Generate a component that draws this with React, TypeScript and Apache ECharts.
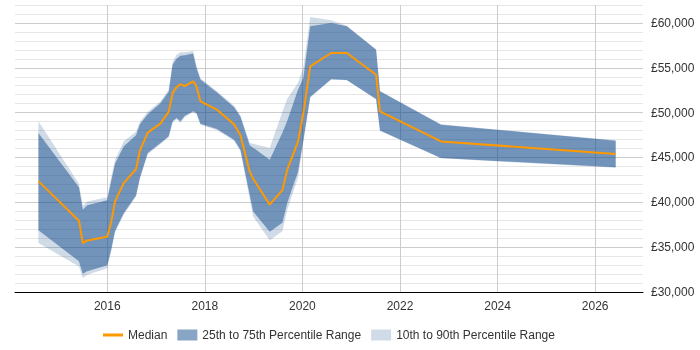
import React, { useEffect, useRef } from "react";
import * as echarts from "echarts";

// Observation dates (decimal years) and salary percentiles at each date
const years = [
  2014.59, 2015.42, 2015.5, 2015.59, 2016.0, 2016.08, 2016.16, 2016.34, 2016.59, 2016.67,
  2016.83, 2017.09, 2017.26, 2017.34, 2017.42, 2017.5, 2017.59, 2017.76, 2017.83, 2017.91,
  2018.25, 2018.6, 2018.73, 2018.92, 2018.99, 2019.33, 2019.59, 2019.69, 2019.91, 2020.02,
  2020.16, 2020.59, 2020.91, 2021.51, 2021.59, 2022.84, 2026.42,
];

const p90 = [
  49030, 42080, 39620, 40100, 40570, 42750, 44750, 46820, 47880, 48990,
  50110, 51280, 52560, 55680, 56460, 56720, 56740, 56880, 55240, 53840,
  52390, 50780, 49720, 46620, 46540, 46060, 50110, 51560, 53340, 55010,
  60650, 60310, 59700, 57080, 52420, 48690, 46910,
];

const p75 = [
  47730, 41690, 39180, 39680, 40220, 42330, 44310, 46240, 47490, 48710,
  49830, 51050, 52340, 55350, 56020, 56350, 56410, 56580, 54960, 53680,
  52230, 50610, 49550, 46370, 46090, 44750, 47770, 49100, 52560, 53900,
  59640, 59980, 59620, 57020, 52370, 48660, 46870,
];

const median = [
  42360, 37950, 35440, 35750, 36170, 37730, 40100, 42160, 43690, 45760,
  47770, 48770, 50110, 52170, 52840, 53170, 52950, 53490, 52930, 51260,
  50330, 48690, 47490, 43420, 42640, 39740, 41350, 43640, 46790, 49960,
  55160, 56650, 56650, 54230, 50140, 46790, 45390,
];

const p25 = [
  36890, 33430, 32040, 32300, 32990, 34720, 36840, 38810, 40770, 42750,
  45500, 46620, 47370, 49030, 49400, 49030, 49660, 50160, 49960, 48770,
  48180, 46980, 45870, 40850, 38990, 36720, 37730, 39960, 43420, 46980,
  51780, 53730, 53640, 51520, 48020, 44940, 43900,
];

const p10 = [
  35460, 32850, 31560, 31930, 32650, 34490, 36610, 38650, 40660, 42640,
  45370, 46480, 47260, 48910, 49270, 48880, 49490, 50050, 49830, 48660,
  48040, 46870, 45700, 40400, 38430, 35780, 36760, 39180, 42750, 46650,
  51670, 53680, 53600, 51480, 47990, 44900, 43860,
];

const yearTicks = [2016, 2018, 2020, 2022, 2024, 2026];

const MEDIAN_NAME = "Median";
const INNER_NAME = "25th to 75th Percentile Range";
const OUTER_NAME = "10th to 90th Percentile Range";

const BAND_DARK = "rgba(20,75,140,0.5)";
const BAND_LIGHT = "rgba(20,75,140,0.2)";
const ORANGE = "#ff9900";
const FONT = '"Liberation Sans", Arial, Helvetica, sans-serif';

const pairs = (vals: number[]) => years.map((y, i) => [y, vals[i]]);

// A filled band between two percentile series, drawn as one polygon
// through the cartesian scales.
function bandSeries(name: string, lo: number[], hi: number[], color: string) {
  return {
    type: "custom",
    name,
    silent: true,
    clip: true,
    itemStyle: { color },
    encode: { x: 0, y: [1, 2] },
    data: years.map((y, i) => [y, lo[i], hi[i]]),
    renderItem: (params: any, api: any) => {
      if (params.dataIndex !== 0) return null;
      const top = years.map((y, i) => api.coord([y, hi[i]]));
      const bottom = years.map((y, i) => api.coord([y, lo[i]])).reverse();
      return {
        type: "polygon",
        shape: { points: top.concat(bottom) },
        style: { fill: color, stroke: "none" },
      };
    },
  };
}

export default function App() {
  const ref = useRef<HTMLDivElement>(null);

  useEffect(() => {
    if (!ref.current) return;
    const chart = echarts.init(ref.current, null, { renderer: "svg" });

    chart.setOption({
      animation: false,
      textStyle: { fontFamily: FONT },
      grid: {
        left: 15,
        right: 57,
        top: 5,
        bottom: 58,
        containLabel: false,
        outerBoundsMode: "none",
      },
      legend: {
        left: 103,
        top: 329,
        padding: 0,
        itemWidth: 20,
        itemHeight: 11,
        itemGap: 10,
        symbolKeepAspect: true,
        textStyle: { fontSize: 12, color: "#333", fontFamily: FONT },
        data: [
          {
            name: MEDIAN_NAME,
            icon: "path://M0,0H20V3H0Z",
            itemStyle: { color: ORANGE },
          },
          { name: INNER_NAME, icon: "rect", itemStyle: { color: BAND_DARK } },
          { name: OUTER_NAME, icon: "rect", itemStyle: { color: BAND_LIGHT } },
        ],
      },
      xAxis: {
        type: "value",
        min: 2014.11,
        max: 2026.98,
        axisLine: { show: true, lineStyle: { color: "#000", width: 1 } },
        axisTick: { show: false, customValues: yearTicks },
        axisLabel: {
          customValues: yearTicks,
          formatter: (v: number) => String(Math.round(v)),
          color: "#333",
          fontSize: 12,
          margin: 8,
        },
        splitLine: { show: true, lineStyle: { color: "#cccccc", width: 1 } },
      },
      yAxis: {
        type: "value",
        position: "right",
        min: 30000,
        max: 62000,
        interval: 1000,
        axisLine: { show: false },
        axisTick: { show: false },
        axisLabel: {
          color: "#333",
          fontSize: 12,
          margin: 8,
          formatter: (v: number) =>
            v % 5000 === 0 ? "£" + v.toLocaleString("en-GB") : "",
        },
        splitLine: {
          show: true,
          lineStyle: {
            color: ["#cccccc", "#e6e6e6", "#e6e6e6", "#e6e6e6", "#e6e6e6"],
            width: 1,
          },
        },
      },
      series: [
        bandSeries(OUTER_NAME, p10, p90, BAND_LIGHT),
        bandSeries(INNER_NAME, p25, p75, BAND_DARK),
        {
          type: "line",
          name: MEDIAN_NAME,
          data: pairs(median),
          symbol: "none",
          showSymbol: false,
          silent: true,
          itemStyle: { color: ORANGE },
          lineStyle: { color: ORANGE, width: 2 },
        },
      ],
    });

    return () => chart.dispose();
  }, []);

  return (
    <div
      ref={ref}
      style={{ position: "fixed", left: 0, top: 0, width: 700, height: 350 }}
    />
  );
}
